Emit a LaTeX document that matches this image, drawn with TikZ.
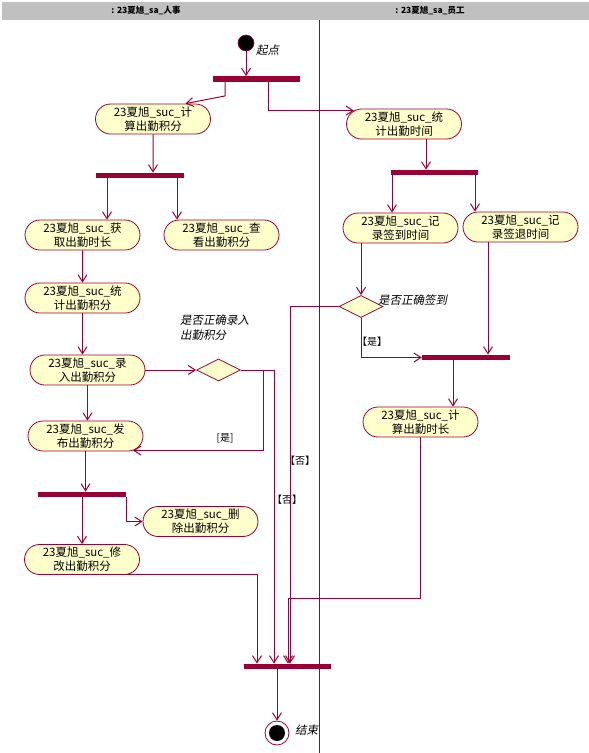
\documentclass[tikz,border=0pt]{standalone}
\usepackage{fontspec}
\setmainfont{Noto Sans CJK SC}
\newfontfamily\slantcjk[FakeSlant=0.2]{Noto Sans CJK SC}
\usepackage{tikz}
\usetikzlibrary{arrows.meta, positioning, shapes.misc, shapes.geometric}
\definecolor{umlline}{HTML}{990033}
\definecolor{umlfill}{HTML}{FFFFCC}
\definecolor{lanegray}{HTML}{C0C0C0}

\begin{document}
\begin{tikzpicture}[x=1pt, y=-1pt, >={Straight Barb[length=7pt,width=9pt]},
  flow/.style={umlline, line width=1pt},
  activity/.style={rounded rectangle, draw=umlline, fill=umlfill, line width=0.8pt,
    minimum width=116pt, minimum height=30pt, inner sep=0.5pt, align=center,
    font=\fontsize{11.5}{14}\selectfont},
  syncbar/.style={fill=umlline, inner sep=0pt, minimum height=5.5pt},
  decision/.style={diamond, draw=umlline, fill=umlfill, line width=0.8pt,
    minimum width=44pt, minimum height=22pt, inner sep=0pt},
  startdot/.style={circle, fill=black, draw=umlline, line width=0.6pt, minimum size=16pt, inner sep=0pt},
  endring/.style={circle, draw=umlline, fill=white, line width=0.8pt, minimum size=24pt, inner sep=0pt},
  note/.style={font=\slantcjk\fontsize{11.5}{15}\selectfont, align=left, inner sep=0pt},
  guard/.style={font=\fontsize{10}{12}\selectfont, inner sep=0pt},
  lanehead/.style={font=\bfseries\fontsize{8.5}{10}\selectfont}]
  \useasboundingbox (0,0) rectangle (589,753);

  % 泳道
  \fill[lanegray] (2,2) rectangle (589,20);
  \node[lanehead] (laneA) at (146,11) {: 23夏旭\_sa\_人事};
  \node[lanehead] (laneB) at (430,11) {: 23夏旭\_sa\_员工};
  \draw[flow] (319,20) -- (319,753);

  % 起点
  \node[startdot] (start) at (246,43) {};
  \node[note, anchor=west] (startlbl) at (256,50) {起点};
  \node[syncbar, minimum width=87pt] (fork1) at (256.5,79) {};
  \draw[flow,->] (start) -- (start |- fork1.north);

  % 活动
  \node[activity] (calcScore) at (153,119) {23夏旭\_suc\_计\\算出勤积分};
  \node[activity] (sumTime) at (404,124) {23夏旭\_suc\_统\\计出勤时间};
  \node[activity] (getTime) at (82.5,235) {23夏旭\_suc\_获\\取出勤时长};
  \node[activity] (viewScore) at (221.5,235) {23夏旭\_suc\_查\\看出勤积分};
  \node[activity] (sumScore) at (82.5,298) {23夏旭\_suc\_统\\计出勤积分};
  \node[activity] (enterScore) at (87.5,370) {23夏旭\_suc\_录\\入出勤积分};
  \node[activity] (publishScore) at (85.5,436) {23夏旭\_suc\_发\\布出勤积分};
  \node[activity] (deleteScore) at (200.5,521.5) {23夏旭\_suc\_删\\除出勤积分};
  \node[activity] (editScore) at (82,559.5) {23夏旭\_suc\_修\\改出勤积分};
  \node[activity] (signIn) at (400.5,228) {23夏旭\_suc\_记\\录签到时间};
  \node[activity] (signOut) at (520.5,227) {23夏旭\_suc\_记\\录签退时间};
  \node[activity] (calcTime) at (420.5,422) {23夏旭\_suc\_计\\算出勤时长};

  % 同步条
  \node[syncbar, minimum width=88pt] (fork2) at (140,175.5) {};
  \node[syncbar, minimum width=88pt] (fork3) at (82,494.5) {};
  \node[syncbar, minimum width=87pt] (fork4) at (434.5,172.5) {};
  \node[syncbar, minimum width=88pt] (fork5) at (466,357.5) {};
  \node[syncbar, minimum width=87pt] (join) at (287.5,666.5) {};

  % 判断
  \node[decision] (check1) at (218.5,370) {};
  \node[note, anchor=north west] (check1lbl) at (180,315) {是否正确录入\\出勤积分};
  \node[decision] (check2) at (361,306.5) {};
  \node[note, anchor=west] (check2lbl) at (378,300) {是否正确签到};

  % 结束
  \node[endring] (finish) at (277,733) {};
  \node[startdot, minimum size=16pt, draw=none] (finishdot) at (finish.center) {};
  \node[note, anchor=west] (finishlbl) at (295,730) {结束};

  % 人事泳道的连线
  \draw[flow,->] ([xshift=-31.5pt]fork1.south) -- ++(0,14) -- ([xshift=-10pt]calcScore.north east);
  \draw[flow,->] ([xshift=11.5pt]fork1.south) |- (sumTime.165);
  \draw[flow,->] (calcScore) -- (calcScore |- fork2.north);
  \draw[flow,->] ([xshift=-33pt]fork2.south) -- ([xshift=-33pt]fork2.south |- getTime.north);
  \draw[flow,->] ([xshift=37pt]fork2.south) -- ([xshift=37pt]fork2.south |- viewScore.north);
  \draw[flow,->] (getTime) -- (sumScore);
  \draw[flow,->] (sumScore.south) -- (sumScore.south |- enterScore.north);
  \draw[flow,->] (enterScore.east) -- (check1.west);
  \draw[flow,->] (enterScore.south) -- (enterScore.south |- publishScore.north);
  \coordinate (yes1) at (263,370);
  \coordinate (no1) at (274,370);
  \draw[flow,->] (check1.east) -- (yes1) |- (publishScore.-17);
  \node[guard] (yes1lbl) at (225,438) {[是]};
  \draw[flow,->] (check1.east) -- (no1) -- (no1 |- join.north);
  \node[guard] (no1lbl) at (287,500) {【否】};
  \draw[flow,->] (publishScore.south) -- (publishScore.south |- fork3.north);
  \draw[flow,->] (fork3.south east) |- (deleteScore.west);
  \draw[flow,->] (fork3.south) -- (editScore.north);
  \draw[flow,->] (editScore.-25) -| ([xshift=-30.5pt]join.north);
  \draw[flow,->] ([xshift=-10.5pt]join.south) -- (finish);

  % 员工泳道的连线
  \draw[flow,->] ([xshift=22pt]sumTime.south) -- ([xshift=22pt]sumTime.south |- fork4.north);
  \draw[flow,->] ([xshift=-42.5pt]fork4.south) -- ([xshift=-42.5pt]fork4.south |- signIn.north);
  \draw[flow,->] ([xshift=40.5pt]fork4.south) -- ([xshift=40.5pt]fork4.south |- signOut.north);
  \draw[flow,->] (signIn.south -| check2) -- (check2.north);
  \coordinate (no2) at (290,306.5);
  \draw[flow,->] (check2.west) -- (no2) -- (no2 |- join.north);
  \node[guard] (no2lbl) at (300,461) {【否】};
  \draw[flow,->] (check2.south) |- (fork5.west);
  \node[guard] (yes2lbl) at (372,342) {【是】};
  \draw[flow,->] ([xshift=-32.5pt]signOut.south) -- ([xshift=-32.5pt]signOut.south |- fork5.north);
  \draw[flow,->] ([xshift=-13pt]fork5.south) -- ([xshift=-13pt]fork5.south |- calcTime.north);
  \coordinate (j2) at (288,598);
  \draw[flow,->] (calcTime.south) |- (j2) -- (j2 |- join.north);
\end{tikzpicture}
\end{document}
